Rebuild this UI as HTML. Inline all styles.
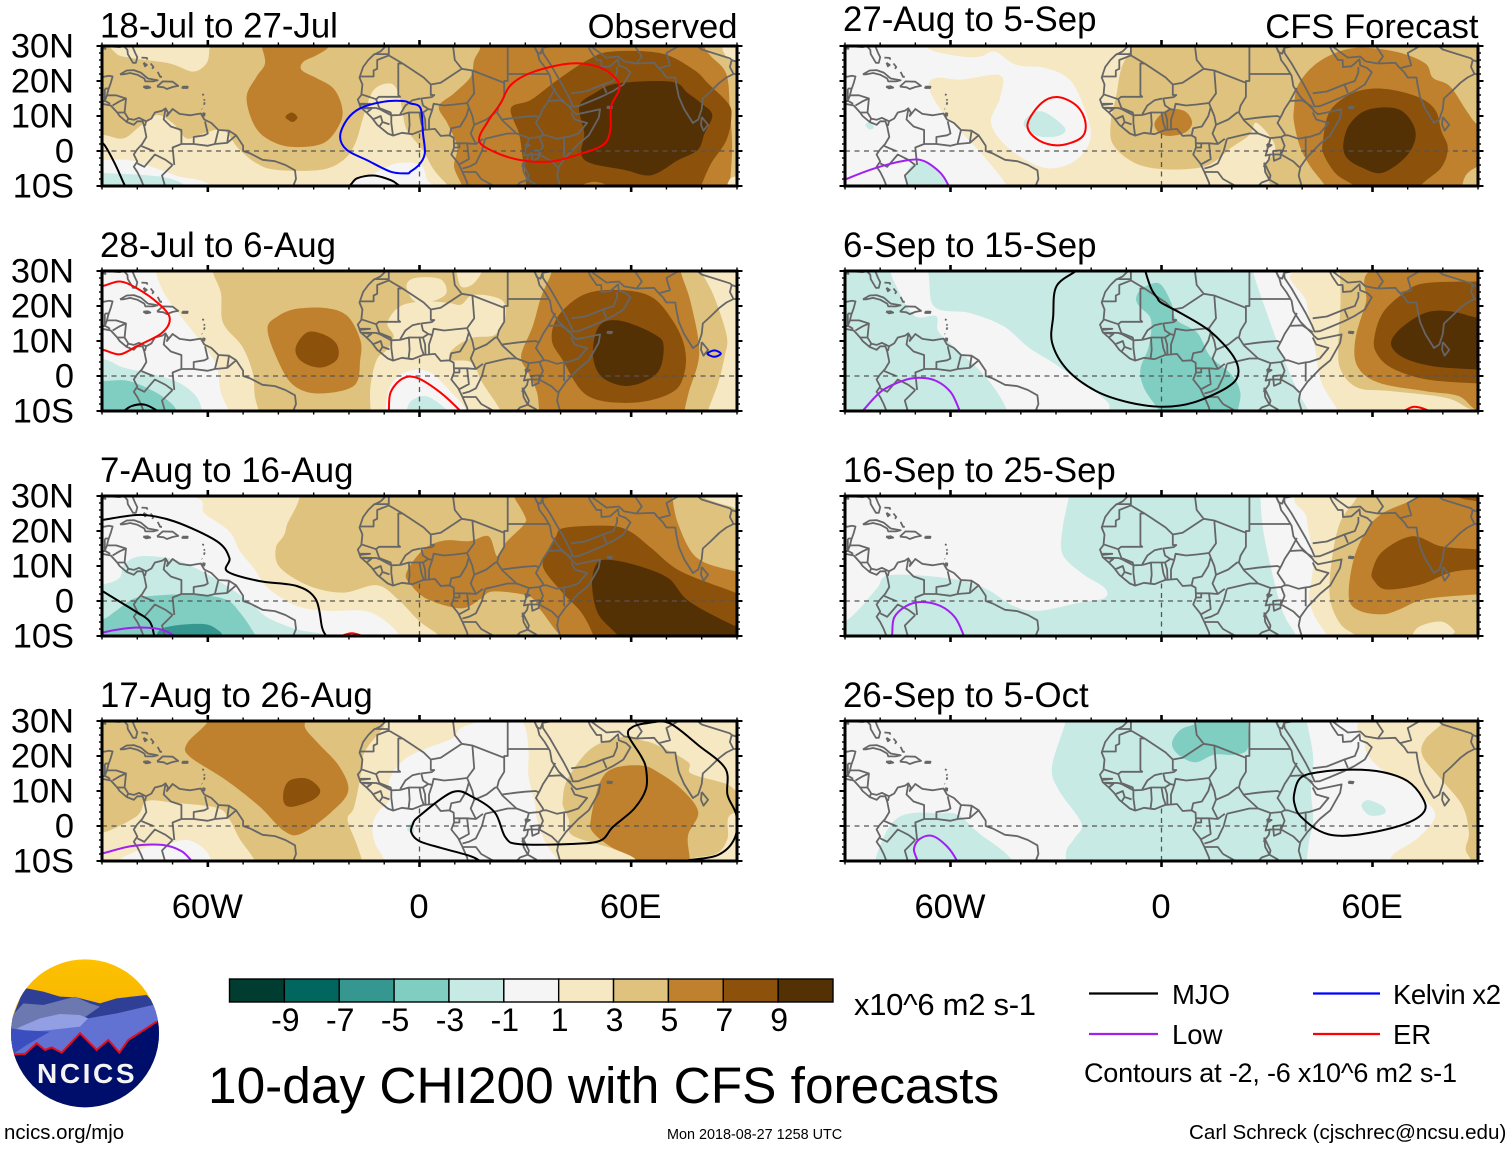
<!DOCTYPE html>
<html lang="en">
<head>
<meta charset="utf-8">
<title>10-day CHI200 with CFS forecasts</title>
<style>
html,body{margin:0;padding:0;background:#fff;width:1510px;height:1149px;overflow:hidden}
svg{display:block}
text{font-family:"Liberation Sans",sans-serif;fill:#000}
</style>
</head>
<body>
<svg id="chart" xmlns="http://www.w3.org/2000/svg" width="1510" height="1149" viewBox="0 0 1510 1149">
<defs>
<linearGradient id="sunGrad" x1="0" y1="0" x2="0" y2="1"><stop offset="0" stop-color="#ffc400"/><stop offset="1" stop-color="#e89c00"/></linearGradient>
<clipPath id="logoClip"><circle cx="255" cy="250" r="222"/></clipPath>
</defs>
<g id="panels"></g>
<g id="colorbar"></g>
<text x="854" y="1015" font-size="31" textLength="182">x10^6 m2 s-1</text>
<text x="208" y="1103" font-size="51.4">10-day CHI200 with CFS forecasts</text>
<g>
<line x1="1089" y1="993.5" x2="1158" y2="993.5" stroke="#000" stroke-width="2.2"/>
<text x="1172" y="1004" font-size="27.5">MJO</text>
<line x1="1313" y1="993.5" x2="1380" y2="993.5" stroke="#0000ff" stroke-width="2.2"/>
<text x="1393" y="1004" font-size="27.5" textLength="108">Kelvin x2</text>
<line x1="1089" y1="1034" x2="1158" y2="1034" stroke="#a020f0" stroke-width="2.2"/>
<text x="1172" y="1044" font-size="27.5">Low</text>
<line x1="1313" y1="1034" x2="1380" y2="1034" stroke="#ff0000" stroke-width="2.2"/>
<text x="1393" y="1044" font-size="27.5">ER</text>
<text x="1084" y="1082" font-size="27" textLength="373">Contours at -2, -6 x10^6 m2 s-1</text>
</g>
<text x="4" y="1139" font-size="20.4">ncics.org/mjo</text>
<text x="667" y="1139" font-size="14.4">Mon 2018-08-27 1258 UTC</text>
<text x="1189" y="1139" font-size="20.6">Carl Schreck (cjschrec@ncsu.edu)</text>
<g transform="translate(0,950) scale(0.3333)">
<g clip-path="url(#logoClip)">
<rect x="0" y="0" width="500" height="500" fill="url(#sunGrad)"/>
<path d="M70 120L80 115L130 125L180 140L230 142L300 160L350 145L440 135L500 200L500 300L0 300Z" fill="#2f3f95"/>
<path d="M20 215L70 160L130 165L225 140L270 160L300 170L250 205L100 240L20 240Z" fill="#6c78b0"/>
<path d="M20 240L100 232L250 200L265 205L350 190L480 160L500 215L500 330L20 330Z" fill="#6272d2"/>
<path d="M50 235L120 205L180 192L240 195L264 205L240 230L150 240L90 245Z" fill="#939fe3"/>
<path d="M20 232L60 240L150 245L80 285L40 312L20 300Z" fill="#3a4ec0"/>
<path d="M40 313L75 312L110 280L135 300L155 292L185 308L240 250L290 300L325 270L358 308L385 270L470 215L500 200L500 500L0 500L0 313Z" fill="#000e6b"/>
<path d="M40 313L75 312L110 280L135 300L155 292L185 308L240 250L290 300L325 270L358 308L385 270L470 215" fill="none" stroke="#e01020" stroke-width="6"/>
</g>
</g>
<text x="37" y="1083" font-size="28" font-weight="bold" letter-spacing="2.6" style="fill:#f4f4f4">NCICS</text>
</svg>
<script>
// Colour levels: index 0 (< -9) ... 10 (> 9)
const levelColors = ['#003c30','#01665e','#35978f','#80cdc1','#c7eae5','#f5f5f5','#f6e8c3','#dfc27d','#bf812d','#8c510a','#543005'];
const colorbarLabels = ['-9','-7','-5','-3','-1','1','3','5','7','9'];
const xTickLabels = ['60W','0','60E'];
const xTickLons = [-60,0,60];
const yTickLabels = ['30N','20N','10N','0','10S'];
const yTickLats = [30,20,10,0,-10];
const contourColors = {mjo:'#000000',kelvin:'#0000ff',er:'#ff0000',low:'#a020f0'};

const panelTitles = ['18-Jul to 27-Jul','28-Jul to 6-Aug','7-Aug to 16-Aug','17-Aug to 26-Aug','27-Aug to 5-Sep','6-Sep to 15-Sep','16-Sep to 25-Sep','26-Sep to 5-Oct'];

// Coastlines as lon,lat sequences
const coastLines = [
[-90,29.3,-89,29.2,-89.5,30,-85,29.7,-83.8,30,-82.8,28.9,-82.7,27.7,-81.2,25.2,-80.4,25.2,-80,26.8,-80.6,28,-81.4,30],
[-84.9,21.9,-83,23,-81,23.1,-79,22.4,-77,20.7,-74.2,20.2,-75.5,19.9,-77.7,19.9,-78,20.7,-80,21.8,-82,22.3,-84,21.9,-84.9,21.9],
[-74.4,18.4,-72.8,19.9,-70,19.8,-68.4,18.6,-70,18.3,-71.6,17.7,-72.5,18.2,-74.4,18.4],
[-78.3,18.4,-77,18.5,-76.3,18.1,-77.5,17.9,-78.3,18.4],
[-67.2,18.4,-65.7,18.4,-65.8,18,-67.2,18,-67.2,18.4],
[-78.2,25.2,-77.8,24.2,-77.3,24.6,-78.2,25.2],[-78.8,26.7,-77.3,26.6,-77.1,26.1],[-76.2,25,-75.4,24,-75.8,23.5],[-74.2,22.6,-73.5,21.2,-73,21.2],
[-61.6,16.2,-61.1,16],[-61.1,14.8,-60.9,14.4],[-60.9,13.9,-61.1,13.2],[-61.7,12.1,-61.6,12],[-61.5,10.8,-61,10.1,-60.9,10.7,-61.5,10.8],
[-90,21.1,-88,21.5,-87,21.3,-87.5,19.5,-88.2,17.5,-88.6,15.9,-86,15.9,-83.2,15,-83.6,11,-82.5,9.2,-81,8.9,-79.5,9.5,-77.5,8.5,-76,9.3,-75,11,-73,11.5,-72,12.2,-71.3,11,-71.6,10,-70,12,-68,10.6,-65,10.2,-62,10.7,-61,9,-59,8,-57,6,-54,5.8,-52,4.5,-50,1.5,-50,0,-48,-0.7,-44.5,-2.5,-41,-2.9,-38,-4,-35.3,-5.5,-35,-8,-36,-10.5],
[-90,13.5,-87.5,13,-85.7,11,-85,10,-83,8.3,-81,7.5,-80,8.5,-78.5,8.5,-78,7,-77.4,4,-78.6,2,-80,0.5,-81,-1,-80,-3,-81,-4.5,-80,-6,-79,-8,-78,-10.5],
[-9.5,30,-11,28.5,-13,27.5,-14.5,26,-16,24,-17,21,-16.2,19,-16.5,16,-17.5,14.7,-16.7,12.5,-15,11,-13.5,9.5,-12,7.5,-9,5,-7.5,4.4,-5,5.2,-2,4.8,1,6,4.4,6.3,6,4.3,8.5,4.5,9.7,3.8,9.8,1,9,-1,11,-3.5,12.2,-6,13.5,-9,13.8,-10.5],
[32.5,30,33.5,28,34,26,35.5,24,37,21.5,37.5,18.5,39.5,15.5,43,12,43.3,11.5,44.5,10.5,47,11,51.2,11.9,50.8,9.5,48,4.5,45,2,41.5,-1.7,39.5,-4.5,39,-7,40,-10.5],
[32.5,30,33.3,28.2,34.3,27.8,34.9,29.5,35,28,37,25,39,21.5,41,18,42.8,14.5,43.5,12.7,45,12.8,48,14,52,15.7,55,17.2,57.8,19,59.8,22.5,58.5,23.7,56.5,24.5,56.3,26.2,54,24.2,51.6,24,51.5,26,50.2,26,48.5,28.5,47.8,30],
[48.5,30,50.5,28.5,53,26.7,56.5,27,58,25.6,61.5,25,66.5,25.2,67.5,24,69,22.5,70,21,72.5,21,72.8,19,73.5,15.5,75,12,77.5,8,79,9,80,12,80.3,15,82.5,17,85,19.5,87,21,89,22,90,22],
[80,9.7,81.8,7.5,80.5,5.8,79.8,7.5,80,9.7],
[53.2,12.7,54.6,12.6,54.4,12.2,53.3,12.3,53.2,12.7],
[31.7,0,34,0.2,33.8,-2,32,-2.8,31.7,0],
[29.2,-3.3,29.5,-6,30.7,-8.2,31,-7,29.8,-4.5,29.2,-3.3],
[30,2,31.3,1.7,30.2,1,30,2]
];

// Political borders as lon,lat sequences
const borderLines = [
[-92,14.5,-90,14,-89.2,14.4,-89.2,15.9],[-89.2,17.8,-88.2,17.9],[-89.2,17.8,-89.2,15.9],[-88.6,15.8,-89.2,14.4,-87.7,13.5],[-87,13,-85,14.2,-83.2,15],[-85.7,11,-83.6,11],[-83,8.3,-82.5,9.5],[-77.5,8.5,-77.8,7.2],
[-72,12,-72.5,9,-70.5,7,-67.5,6,-67.5,2,-70,1,-69.5,-4],[-67.5,2,-64,2,-64,4,-61,4.5,-60,5,-60.8,8.5],[-57,6,-58,2,-60,1.5,-64,2],[-54,5.8,-54.5,2.3,-58,2],[-52,4.5,-54.5,2.3],
[-80,-3.5,-78,-4.5,-75,-1,-72,-2.5,-70,-4],[-78.8,1.4,-75.5,0],[-70,-4,-73,-7,-72,-10.5],
[-8.7,30,-8.7,27.3],[-13,27.7,-8.7,27.7],[-8.7,27.3,-12,26,-12,23.5,-13,23,-13,21.3,-17,21.3],[-8.7,27.3,-4.8,25,-6,25,-6,16,-5.5,15.5,-11.5,15.5,-12.3,14.8,-16.5,16.2],
[-4.8,25,1.2,21,3.2,19,6,19.5,12,23.5],[3.2,19,3.2,16,4.2,16,3.5,15.4,0.5,15,1,13,2.5,12,3.6,11.7,4,13.5,7,13,10,13.3,13.5,13.7],
[12,23.5,15,23,24,19.5],[10,30,9.5,30,10,26,12,23.5],[25,31,25,22,36.9,22],[24,19.5,24,20,25,20,25,22],
[-5.5,10.3,-3,11,0,11,1,11,2.5,12],[-5.5,10.5,-4,13,-2,14.5,0.2,15],[1,11,1.6,9,1.7,6.2],[0,11,0.5,8,1.2,6.1],[-3,11,-2.8,7.5,-3.1,5.1],[2.7,6.3,2.7,9,3.6,11.7],
[8.6,4.6,9,6.5,11.5,7,13.3,10,14,12.5,13.5,13.7,15.5,16.5,15,23],[14,12.5,15,10,15.5,7.5,14.5,5,16,2],[15.5,7.5,19,9,21.5,11,22,11],[24,19.5,24,15.5,22.5,13,22,11,23.5,8.7,27.5,5,31,3.7],[18.6,3.5,22,4.3,25,5,27.5,5],
[23.5,9,27,9.5,30,9.8,33,10,34,9.5],[36.5,14.3,35,12,34.3,10.5,33,8,35,5,35,4.5],[36.5,14.3,38.5,18],[36.5,14.3,40,14.5,43,12.5],[43,11,44,9,47.5,8,45,5,42,4,41,3.9],[35,4.5,36,4.5,39,3.5,41,3.9,41,-1.5],
[31,3.7,34,4,35,4.5],[34,4,35,1.5,34,-1,37.5,-3,39.2,-4.7],[31,3.7,29.6,-1.3,30.8,-1,34,-1],[30.8,-1,30.5,-2.5,29,-4.5],[30.7,-8.2,33,-9.5,34.5,-11],[34.5,-11,40,-10.5],[30.7,-8.2,28.5,-9,27,-10.5],
[12.2,-5,14,-4.5,16,-3.5,17.7,0,18.6,3.5],[11.1,-3.9,14,-2.3,13.5,2.2],[9.8,2.2,13.5,2.2,16,2,18,3.5],[9.8,1,11.3,1,11.3,2.2],[12.2,-6,16,-6,17.5,-8,22,-10.5],
[-16.7,12.4,-12.3,12.3,-11.4,12,-8,10.2,-8,8,-7.5,4.4],[-16.8,13.5,-14,13.5,-16.8,13.2],[-16.7,12.4,-13.7,12,-15,11],[-13.3,9,-11,10,-10.5,8.3,-11.4,6.9],[-10.5,8.3,-8.5,7.6],[-11.4,12.3,-8.2,11,-8,10.2,-5.5,10.3],[-12.3,14.8,-11.4,12.3],
[43,16.5,47,17,52,19,55,20,56,22.5,56,24],[52,19,53,16.6],[35,29.5,38,30],[61.5,25,63,27,61,30],[68,23.7,71,24.5,70,28,73.5,30],[78.8,30,80,29,88,26.5,88.5,26,88,24,89,22],[88.5,26,90,25.5]
];

// Panel 1: 18-Jul to 27-Jul (level index, lon,lat ...)
const panel1Base = 7;
const panel1Fills = [
[6,[-86,32,-86,27.9,-81.2,26.5,-70.8,25,-64.2,22.7,-60.4,25,-59.6,28.9,-60,33]],
[6,[-95,4,-89.8,4.6,-84,3.6,-79.3,7,-74.6,10.3,-69.9,7.9,-66,3.6,-61.3,5,-55.6,6,-51.4,0.8,-46.2,-3.5,-40.5,-5.4,-28.1,-5.4,-21.6,-2.6,-18.2,2.2,-15.9,9.8,-13,17.4,-8.2,19.3,-5.9,16.5,-4.9,11.7,-4,7,-2.6,4.6,1.2,-0.2,4.1,-5.4,7.9,-9.7,12,-14,-95,-15]],
[5,[-95,-2.6,-89.8,-2.6,-82.3,-2.6,-74.6,-5,-68,-7.3,-62.4,-8.3,-59,-10.2,-59,-14,-95,-14]],
[4,[-95,-6.4,-88,-6.4,-77.5,-6.9,-71,-7.8,-66.5,-10,-66,-14,-95,-14]],
[5,[-19.6,-9.2,-13,-6.4,-6.3,-3.5,0.3,-4,2.2,-8.3,4,-10.2,4,-14,-20,-14]],
[8,[-44.7,29.8,-43.8,25,-46.2,21.2,-49,15.5,-47.1,7.9,-43.3,3.6,-36.7,1.2,-27.3,2.2,-22.5,7.9,-22,12.7,-24.4,17.9,-29.1,20.8,-33.4,23.1,-32.9,25.5,-29.1,27.4,-25.7,29.8,-23,35,-46,35]],
[9,[-38,9.7,-36.2,11,-34.6,9.6,-36,8.3]],
[8,[17.3,29.8,15.5,26,14.5,21.2,9.8,16.5,5.5,12.7,7.9,7.9,10.7,1.2,9.8,-4.5,12.1,-10.2,12,-14,88,-14,88,-10.2,88.6,1.2,88,11.7,87,22,82.7,27,80.8,29.8,80,35,17,35]],
[6,[88,-8,92,-8,92,-14,87,-14]],
[6,[86,30,88,26,92,26,92,32]],
[9,[25.9,12.2,31.6,14.6,39.1,20.3,47.7,26,54.3,28.4,68.5,27.9,77.9,23.1,81.8,19.3,87.5,13.6,88.4,9.8,87,3.1,82.7,-3.5,79.9,-9.7,78,-14,27,-14,30.1,-9.7,29.2,-1.6,28.2,5]],
[8,[45.8,-10.2,49.6,-8.8,53.4,-10.2,50,-12]],
[10,[45.3,12.7,49.6,16.5,56.2,19.3,71.4,19.8,76.1,16.5,79.9,13.6,83,10.3,80.8,5,78.9,0.3,73.3,-2.6,65.7,-6.9,58.1,-5.4,48.6,-3.5,45.8,-0.7,46.7,5]]
];
const panel1Lines = [
['kelvin',1,[-22.5,4.1,-20.6,8.9,-16.8,12.2,-10.1,14.1,-4.5,14.3,-2.6,13.6,0.3,12.2,1,5,1.5,-0.7,-0.2,-4,-2.6,-5.9,-3.5,-6.4,-8.2,-5.9,-14.9,-2.6,-20.6,0.3]],
['er',1,[16.9,3.1,19.7,8.9,23,13.6,25.9,18.9,32.5,22.7,42.9,25,50.5,24.1,55.2,21.2,56.7,17.9,54.3,12.7,54.1,6,52,1.7,44.8,-1.1,37.2,-3,28.7,-2.6,21.1,-0.2]],
['mjo',0,[-91,3,-89.3,1.7,-86.4,-3.5,-83.6,-9.7,-82,-12]],
['mjo',0,[-22,-11,-19.6,-9.7,-17.7,-7.8,-13,-7,-8.2,-8.3,-6,-9.7,-4,-11]]
];

// Panel 2: 28-Jul to 6-Aug
const panel2Base = 6;
const panel2Fills = [
[5,[-75,35,-74.8,30,-72.4,23.7,-67.6,17,-61,8.5,-57.5,2.8,-56.3,-4.7,-53.9,-10.4,-53,-15,-95,-15,-95,35]],
[4,[-95,5,-89.1,4.7,-83.8,2.4,-75.4,0.5,-68.2,-1.9,-63.4,-5.7,-61.6,-10,-61,-15,-95,-15]],
[3,[-95,-1.4,-89.1,-1.4,-82.6,-1.4,-75.4,-4.3,-70.6,-7.6,-68.8,-10.2,-68,-15,-95,-15]],
[7,[-59,35,-58.7,30,-56.3,23.7,-55.7,15.2,-50.3,8.5,-47.3,1,-46.7,-5.7,-45.5,-10.4,-45,-15,81,-15,81.7,-10.2,84.7,-1.9,86.5,5.7,87.1,11.4,83.5,22.7,79.9,30,79,35]],
[6,[-13.9,-10.4,-13.9,-2.8,-12.1,4.7,-9.1,7.6,-7.3,11.4,-9.1,15.2,-5.5,19.9,1.1,21.3,8.2,20.9,11.8,20.4,15.4,23.2,23.2,21.8,24.4,17.1,21.4,11.8,14.8,10.9,9.4,7.6,8.8,4.7,14.8,3.8,17.8,-1.9,23.2,-10.4,23,-15,-14,-15]],
[6,[-3.7,25.6,-1.3,28,5.9,27.7,7.6,23.7,3.5,21.3,-1.3,21.3]],
[6,[10.4,30,11.8,25.6,14.8,26,17.2,28.9,17.2,31,10,31]],
[5,[-9.7,-10.4,-8.5,-3.3,-4.3,1,2.3,1.4,8.2,-3.8,13.6,-10.4,13,-15,-10,-15]],
[4,[-3.7,-10.4,-2.3,-7.1,2.3,-5.9,8.2,-10.4,8,-15,-4,-15]],
[8,[-43.1,13.7,-40.1,17.1,-34.8,19.2,-26.4,19.4,-20.4,17.1,-16.8,10.4,-16.8,4.7,-18.6,-2.8,-28.8,-5,-36,-2.4,-40.7,5.7]],
[9,[-35.1,8.1,-31.8,12.5,-27,11.8,-23.4,9,-23.4,4.7,-28.2,2.4,-33.6,4.3]],
[8,[37.5,30,34.5,22.7,32.1,14.2,28.8,5.7,30.9,0.9,33.3,-4.7,33.9,-10.4,34,-15,75,-15,75.1,-10.4,76.3,-4.7,79.3,6.6,76.9,20.9,74,30,74,35,37,35]],
[9,[37.5,10.4,39.3,17.1,46.5,23.2,56,24.6,65.6,22.7,71.6,16.1,75.1,8.5,75.1,0.9,71.6,-4.7,60.8,-7.6,47.7,-5.7,40.5,4.7]],
[10,[49.5,10.4,51.9,15.2,57.8,15.6,66.8,11.8,69.2,8.5,67.4,0.9,59.6,-2.8,52.5,-0.9,49.5,3.8]]
];
const panel2Lines = [
['er',0,[-93,25,-89.4,25.8,-84.9,27,-80.2,25.1,-74.2,20.9,-70.8,16.6,-73,12.3,-80.2,8.5,-84.9,6.2,-89.4,7.4,-93,8]],
['er',0,[-9,-12,-8.7,-10.4,-8.2,-4.7,-4.9,-0.8,-0.7,-0.5,5.9,-4.7,11.6,-10,13,-12]],
['mjo',0,[-85,-11,-83.8,-10,-81.4,-8.5,-77.8,-8.2,-74.2,-10,-73,-11]],
['kelvin',1,[81.6,6.4,83.6,7.3,85.4,6.4,83.6,5.5]]
];

// Panel 3: 7-Aug to 16-Aug
const panel3Base = 7;
const panel3Fills = [
[6,[-95,35,-38.4,35,-37.8,20.9,-40.7,15.2,-39.5,9.5,-31.2,4.3,-21.6,2.4,-12.1,4.5,-6.1,0.5,-0.1,-5.7,5.9,-10.4,6,-15,-95,-15]],
[5,[-95,35,-64.6,30,-61,25.1,-53.9,19.9,-50.9,14.2,-46.7,9,-43.1,3.8,-34.8,-1.4,-26.4,-2.8,-15.7,-2.8,-9.7,-5.7,-5.5,-10.2,-5,-15,-95,-15]],
[4,[-95,4,-89.7,4.7,-85,6.6,-83.8,10.4,-79,12.8,-69.4,11.8,-61,8.1,-53.9,3.8,-47.9,-0.5,-43.1,-4.7,-34.8,-8.1,-26.4,-10,-26,-15,-95,-15]],
[3,[-95,-5.5,-89.7,-5.2,-86,-2.8,-81.4,0.5,-76.6,1.4,-64.6,1.9,-55.1,0.5,-50.9,-3.3,-47.3,-8.5,-46.5,-10.4,-46,-15,-95,-15]],
[2,[-74.2,-9,-70,-7.1,-61,-6.6,-56.9,-8.5,-55.7,-10.4,-55,-15,-75,-15]],
[6,[80,35,80.5,30,83.5,28.4,88.3,27,92,26,95,35]],
[8,[26,35,26.2,31,29.7,24.6,29.7,22,24.4,16.6,22,12.8,19.6,18.5,14.2,17.1,7,17.3,1.1,14.7,-3.7,8.1,-2.5,4.7,2.3,0.5,11.8,-2.1,17.2,0.5,20.8,2.7,30.9,1.4,34.5,-2.8,38.7,-8.5,41.1,-10.9,41,-15,95,-15,95,8,89.5,8.5,78.7,12.3,73.4,21.8,71.6,30,71,35]],
[9,[38.7,18.5,41.1,20.9,53.6,21.5,59.6,19.9,65.6,15.2,74,8.5,89.5,2.4,95,0,95,-15,50,-15,49.5,-10.4,45.9,-3.3,40.5,2.4,35.1,9.5,36.3,14.2]],
[10,[48.9,4.7,50.1,10.4,53,11.8,60.8,10.4,70.4,6.6,76.3,0,88.3,-6.6,95,-9,95,-15,57,-15,56.6,-10.4,50.7,-3.8]]
];
const panel3Lines = [
['mjo',0,[-92,23,-89.7,23.2,-79,24.6,-69.4,22.7,-57.5,17.1,-53.9,12.3,-54.5,8.5,-45.5,5.7,-34.8,4.3,-29.4,0.5,-27.6,-7.6,-26.4,-10,-25,-12]],
['mjo',0,[-92,4,-89.7,2.7,-81.4,-2.4,-76.6,-5.7,-75.2,-10,-75,-12]],
['low',0,[-92,-10,-89.7,-9,-83.8,-7.9,-77.8,-7.6,-73,-8.2,-69.4,-10,-68,-11.5]],
['er',0,[-24,-11,-22.2,-10,-19.2,-9.2,-16.2,-10,-14,-11]]
];

// Panel 4: 17-Aug to 26-Aug
const panel4Base = 7;
const panel4Fills = [
[6,[-5,35,-10.3,28,-15.7,20.9,-16.8,13.7,-18.6,5.2,-20.4,1.9,-18,-4.7,-16.2,-10.4,-16,-15,95,-15,95,35]],
[7,[40.6,7.3,42,13.5,48.6,22.1,57.2,25.4,62.8,24.5,67.6,23,76.1,18.3,77,15,86.7,12.1,90.3,9.7,95,8,95,5,87.9,3,87.3,-3.6,84.2,-7.9,76.6,-9.7,76,-15,61,-15,61.4,-9.7,54.8,-6.5,43.4,-2.7,42.4,1.6,41,4.9]],
[5,[26.2,31,29.7,28.9,30.9,21.8,30.9,14.2,32.7,6.6,33.3,1.9,35.7,-4.7,39.3,-10.4,39,-15,-10,-15,-9.7,-10.4,-12.7,-4.7,-13.3,0.5,-11.5,4.3,-8.5,7.6,-8.5,13.3,-4.3,19,2.3,22.3,9.4,25.1,11.8,28,17.2,30,17.8,31]],
[4,[-3.5,-1,-1.9,1.4,-1.6,-1.9]],
[6,[-95,-1,-89.7,-1.9,-80.2,2.8,-77.2,7.1,-69.4,6.6,-57.5,5.2,-53.9,1.9,-50.9,-3.8,-46.7,-10,-46,-15,-95,-15]],
[5,[-86.1,-10.4,-77.8,-6.2,-71.8,-5.2,-65.8,-4,-61,-6.6,-58.9,-10.4,-59,-15,-86,-15]],
[8,[-59.9,30,-65.8,23.7,-65.2,19.9,-55.1,13.3,-45.5,5.7,-38.4,-1.4,-33.6,-2.2,-25.2,3.8,-20.2,10,-22.8,17.1,-28.8,23.7,-32.4,28,-32,31,-32,35,-60,35]],
[9,[-38.4,10.4,-36.6,13.1,-31.8,13.5,-28.2,10.4,-30,7.6,-36,5.5,-38.4,6.6]],
[8,[48.6,2.1,51,12.1,54.8,16.4,62.8,17.3,67.6,15.4,74.2,10.6,79,4,76.1,-2.7,76.6,-9.7,76,-15,61,-15,61.4,-9.7,54.3,-6,49.1,-1.7]]
];
const panel4Lines = [
['mjo',0,[19,-11.5,17.2,-10,14.2,-8.5,5.9,-6.2,-0.1,-4.3,-2.3,-1.9,-1.9,0.5,-0.1,2.8,9.4,9.7,15.4,8.1,21.4,3.8,24.4,-3.3,28.6,-5.2,43.9,-5.1,51.4,-4.1,54.8,-0.3,60.8,4.9,64.2,10.6,64.2,16.4,62.8,20,59.2,25.9,60.4,28.3,64.7,29.4,70.8,29.4,79,23.1,86.7,16.4,87.3,8.9,89.8,3.1,89.3,-3.6,84.6,-8.3,76.1,-9.8,74,-10.5]],
['low',0,[-92,-8.2,-89.7,-7.8,-81.4,-5.7,-73,-5.4,-67.6,-7.1,-64.6,-10,-63.5,-11.5]]
];

// Panel 5: 27-Aug to 5-Sep
const panel5Base = 6;
const panel5Fills = [
[5,[-95,35,-67,35,-66.5,29.4,-56.9,27,-51.5,27,-47.3,28.4,-41.3,24.6,-32.9,23.7,-25.7,19.9,-21,9.5,-20.4,2.8,-24.6,-2.8,-31.7,-5,-38.9,-2.4,-45.5,2.8,-48.5,8.5,-45.9,15.2,-45.9,21.6,-56.9,20.4,-64.1,20.9,-66.2,18.5,-63.5,12.8,-58.1,6.6,-52.7,0.9,-47.9,-4.7,-43.7,-10.4,-43,-15,-95,-15]],
[4,[-39.2,7.6,-36.5,10.9,-32.9,10.9,-27.5,6.6,-29.3,4.3,-35.3,4.3]],
[4,[-84.2,7.6,-82.6,8.1,-81.8,6.6,-83.2,6.2]],
[4,[-72,-10,-72.5,-6.6,-70.7,-3.8,-67.1,-3.3,-62.9,-6.6,-61.1,-10,-61,-15,-72,-15]],
[7,[-8,35,-8.4,30,-11.4,23.7,-12.8,16.1,-14.4,8.5,-13.8,1.9,-7.8,-3.3,0.6,-5.2,12.6,-4.3,19.8,0.9,25.1,4.7,26.9,8.1,31.1,3.8,32.3,0,29.3,-4.7,31.1,-10.4,31,-15,95,-15,95,35]],
[8,[-1.8,8.5,1.8,11.8,6.6,11.4,8.7,8.1,6.6,5.2,1.8,4.3,-1.2,5.7]],
[8,[37.7,12.3,38.9,19,44.9,25.6,54.5,29.4,66.5,28.4,74.9,25.1,77.2,20.9,82,18.5,86.8,11.4,89.8,7.6,95,5,95,-15,47,-15,46.7,-10.4,42.5,-4.7,39.5,0.9,37.7,8.1]],
[7,[85.4,-10.4,86.8,-6.6,90.4,-4.3,95,-4,95,-15,85,-15]],
[9,[45.9,2.8,47.9,11.4,54.5,16.6,62.9,17.8,72.5,15.6,77.8,11.8,79.6,5.7,81.4,0.9,79.6,-4.7,73.7,-10,73,-15,55,-15,55.1,-10.4,49.7,-6.6,46.1,-0.9]],
[10,[51.7,1.9,53.5,7.6,58.7,11.8,67.7,11.8,72.2,5.7,70.1,-0.9,62.9,-6.2,56.9,-4.7,52.7,-1.9]]
];
const panel5Lines = [
['er',1,[-38.1,7.6,-34.1,13.7,-29.3,15.4,-24,12.8,-21.6,8.1,-22.8,3.8,-29.3,1.6,-35.3,3.3]],
['low',0,[-92,-9.5,-89.8,-8.1,-80.8,-4.7,-72.5,-2.7,-67.7,-2.8,-62.9,-6.2,-60.5,-10,-60,-12]]
];

// Panel 6: 6-Sep to 15-Sep
const panel6Base = 4;
const panel6Fills = [
[5,[-76.6,31,-74.9,24.6,-70.1,17.1,-64.1,17.1,-63.5,12.8,-58.7,8.1,-51.5,1.4,-46.7,-4.7,-43.7,-10.4,-43,-15,-15,-15,-15,-10.4,-16.2,-6.6,-29.3,2.8,-37.7,8.1,-44.9,14.2,-54.5,18,-64.7,19.9,-67.1,31]],
[5,[25.7,31,29.3,19.9,34.1,6.6,38.9,-4.7,41.9,-10.4,42,-15,60,-15,60,35,26,35]],
[6,[40.4,31,41.3,20.9,43.7,7.6,45.5,-1.9,50.3,-10.4,50,-15,95,-15,95,35]],
[7,[50,35,50.7,30,50.9,20.9,50.3,9.5,50.9,1.9,55.7,-3.3,65.3,-4.3,80.8,-6.2,88,-9.5,95,-11,95,35]],
[8,[61.1,31,58.1,20.9,55.1,10.4,55.7,2.8,61.7,-1.9,74.9,-4.3,84.4,-5.7,89.2,-9.5,95,-11,95,35]],
[9,[60.5,10.9,62.9,18,68.9,23.7,74.9,26.5,89.8,27,95,27,95,-2,89.8,-2.1,74.9,-0.9,65.3,2.4,61.1,6.6]],
[10,[65.3,9,67.7,13.3,74.9,18,82,18.5,89.8,16.6,95,16,95,2,89.8,1.9,77.2,2.8,68.9,5.2]],
[3,[-7.2,22.3,-5.4,25.1,-0.6,26.4,2.8,20.9,4.2,16.1,10.2,12.3,13.8,5.7,19.8,0.5,22.4,-4.7,21.6,-10.4,21,-15,2,-15,-0.6,-10,-4.8,-3.8,-6,1.9,-3.6,8.5,-3,16.1,-6.3,19.9]]
];
const panel6Lines = [
['mjo',0,[-22,32,-24.3,30,-29.9,25.6,-30.8,17.1,-31.1,9.5,-26.9,1.9,-18.6,-4.3,-9,-7.6,0.6,-8.8,9,-7.6,18.6,-3.3,21.8,0.5,20.4,5.7,13.8,12.8,5.4,18,0,20.9,-1.2,22.3,-3,25.1,-4.6,30,-5,32]],
['low',0,[-86,-11.5,-84.7,-9.7,-79.6,-4.3,-73.7,-1.4,-68.9,-0.5,-64.1,-1.4,-59.9,-4.7,-57.5,-9.7,-57,-11.5]],
['er',0,[67,-11,69.5,-9.7,71.9,-8.8,75.4,-9.7,77,-11]]
];

// Panel 7: 16-Sep to 25-Sep
const panel7Base = 5;
const panel7Fills = [
[4,[-26,35,-26.3,30,-28.1,20.9,-28.1,13.3,-22.2,7.6,-16.2,3.8,-16.2,0.9,-23.4,-0.5,-34.9,-2.8,-42.1,-1.4,-50.5,3.8,-61.3,6.6,-77.2,7.4,-80.8,3.8,-85.6,-1.9,-89.8,-5.7,-95,-8,-95,-15,39,-15,38.3,-10,34.1,-1.9,29.3,18,28.1,30,28,35]],
[6,[41.9,31,41.3,23.7,43.1,12.3,42.5,4.7,41.9,0.9,43.7,-4.7,47.3,-10.4,47,-15,95,-15,95,35]],
[7,[55.7,30,50.9,22.7,48.5,12.3,47.9,0.9,50.9,-6.6,55.7,-10.4,56,-15,95,-15,95,35,55,35]],
[6,[71.3,-10,73.7,-7.1,79.7,-5.9,83.3,-8.5,82.7,-10,82,-15,71,-15]],
[8,[73.1,30,62.9,25.1,58.1,19.9,54.5,11.4,53.3,0.9,56.3,-2.8,62.9,-3.8,67.7,-2.4,74.9,0.5,89.8,1.9,95,2,95,35,73,35]],
[9,[59.9,8.5,62.9,14.2,71.3,18.5,79.6,15.6,89.8,14.7,95,14,95,8,89.8,9,82,8.1,73.7,4.7,64.1,3.3,60.5,5.7]],
[9,[83,35,84,30,90,28.5,95,28,95,35]]
];
const panel7Lines = [
['low',0,[-77,-11.5,-76.6,-9.7,-76,-4.7,-72.5,-1.4,-68.3,-0.3,-62.9,-1.4,-58.7,-4.7,-56.3,-9.7,-56,-11.5]]
];

// Panel 8: 26-Sep to 5-Oct
const panel8Base = 5;
const panel8Fills = [
[4,[-27,35,-27.2,30,-31.1,17.1,-29.3,10.4,-22.8,0.9,-24.6,-3.3,-26.9,-6.6,-27.2,-10,-27,-15,41,-15,41.3,-10.4,41.9,-4.7,43.1,1.9,42.5,10.4,43.1,19.9,41.1,31,41,35]],
[4,[-81.4,-10,-78.4,-1.9,-74.9,2.4,-70.1,3.8,-64.1,3.6,-58.1,3.3,-52.1,-1.9,-43.1,-9,-42,-15,-81,-15]],
[4,[56.9,5.7,58.7,7.4,62.9,5.7,63.5,3.6,59.3,3]],
[3,[3,23.7,5.4,27.5,10.2,29.6,10,33,25,33,24.6,30,24.6,22.3,21,20.4,15,20.4,9.6,18.2,4.8,20.4]],
[6,[58.7,31,57.8,23.7,59.3,19.4,64.1,15.2,71.3,11.8,74.9,7.6,77.8,2.8,73.1,-3.3,66.5,-7.6,64.7,-10.4,64,-15,95,-15,95,35]],
[7,[80.2,30,74.9,24.6,74.3,19.9,79.6,13.3,85.6,5.7,87.4,-1.9,86.5,-6.6,88,-10,88,-15,95,-15,95,35,80,35]],
[6,[-91,8,-89.4,5,-91,2]]
];
const panel8Lines = [
['mjo',1,[37.7,9,39.5,13.7,44.9,15.4,54.5,16.1,62.9,15.4,70,12.8,74.2,8.1,74.8,4.3,70,0.9,60.5,-1.7,50.9,-2.8,44.9,-1.4,39.5,2.8,38,5.7]],
['low',0,[-69.5,-11.5,-69.5,-9.7,-70.4,-6.6,-68.9,-3.8,-65.3,-2.8,-61.1,-5.7,-58.3,-9.7,-58,-11.5]]
];

const panelBases = [panel1Base,panel2Base,panel3Base,panel4Base,panel5Base,panel6Base,panel7Base,panel8Base];
const panelFills = [panel1Fills,panel2Fills,panel3Fills,panel4Fills,panel5Fills,panel6Fills,panel7Fills,panel8Fills];
const panelLines = [panel1Lines,panel2Lines,panel3Lines,panel4Lines,panel5Lines,panel6Lines,panel7Lines,panel8Lines];

const NS = 'http://www.w3.org/2000/svg';
const panelsRoot = document.getElementById('panels');
const barRoot = document.getElementById('colorbar');

function mk(tag, parent, attrs) {
  const el = document.createElementNS(NS, tag);
  for (const k in attrs) el.setAttribute(k, attrs[k]);
  parent.appendChild(el);
  return el;
}
function lonToX(box, lon) { return box.x + (lon + 90) * box.w / 180; }
function latToY(box, lat) { return box.y + (30 - lat) * box.h / 40; }
function toPixels(box, flat) {
  const out = [];
  for (let i = 0; i < flat.length; i += 2) out.push([lonToX(box, flat[i]), latToY(box, flat[i + 1])]);
  return out;
}
function splinePath(p, closed) {
  const n = p.length;
  const at = i => closed ? p[(i + n) % n] : p[Math.max(0, Math.min(n - 1, i))];
  let d = 'M' + p[0][0].toFixed(1) + ' ' + p[0][1].toFixed(1);
  const segs = closed ? n : n - 1;
  for (let i = 0; i < segs; i++) {
    const a = at(i - 1), b = at(i), c = at(i + 1), e = at(i + 2);
    d += 'C' + (b[0] + (c[0] - a[0]) / 6).toFixed(1) + ' ' + (b[1] + (c[1] - a[1]) / 6).toFixed(1) + ' ' +
      (c[0] - (e[0] - b[0]) / 6).toFixed(1) + ' ' + (c[1] - (e[1] - b[1]) / 6).toFixed(1) + ' ' +
      c[0].toFixed(1) + ' ' + c[1].toFixed(1);
  }
  return d + (closed ? 'Z' : '');
}
function straightPath(p) {
  return 'M' + p.map(q => q[0].toFixed(1) + ' ' + q[1].toFixed(1)).join('L');
}

function drawPanel(i) {
  const col = i < 4 ? 0 : 1;
  const row = i % 4;
  const box = {x: col ? 845 : 102, y: 46 + row * 225, w: col ? 633 : 635, h: 140};
  const g = mk('g', panelsRoot, {});
  
  
  const clipId = 'clip' + i;
  const cp = mk('clipPath', g, {id: clipId});
  mk('rect', cp, {x: box.x, y: box.y, width: box.w, height: box.h});
  const plot = mk('g', g, {'clip-path': 'url(#' + clipId + ')'});
  const base = mk('rect', plot, {x: box.x, y: box.y, width: box.w, height: box.h, fill: levelColors[panelBases[i]]});
  
  
  panelFills[i].forEach(f => {
    const el = mk('path', plot, {d: splinePath(toPixels(box, f[1]), true), fill: levelColors[f[0]]});
    
    
  });
  const map = mk('g', plot, {fill: 'none', stroke: '#666666', 'stroke-width': 1.8, 'stroke-linejoin': 'round'});
  
  
  mk('path', map, {d: coastLines.concat(borderLines).map(l => straightPath(toPixels(box, l))).join('')});
  const eq = mk('line', plot, {x1: box.x, x2: box.x + box.w, y1: latToY(box, 0), y2: latToY(box, 0), stroke: '#555', 'stroke-width': 1.3, 'stroke-dasharray': '5 4.5'});
  
  
  const pm = mk('line', plot, {x1: lonToX(box, 0), x2: lonToX(box, 0), y1: latToY(box, 5), y2: latToY(box, -10), stroke: '#555', 'stroke-width': 1.3, 'stroke-dasharray': '5 4.5'});
  
  
  panelLines[i].forEach(c => {
    const el = mk('path', plot, {d: splinePath(toPixels(box, c[2]), !!c[1]), fill: 'none', stroke: contourColors[c[0]], 'stroke-width': 2});
    
    
  });
  const frame = mk('rect', g, {x: box.x, y: box.y, width: box.w, height: box.h, fill: 'none', stroke: '#000', 'stroke-width': 3});
  
  
  const ticks = mk('g', g, {stroke: '#000', 'stroke-width': 1.4});
  
  
  for (let lon = -90; lon <= 90; lon += 10) {
    const major = lon % 60 === 0 && lon !== -90 && lon !== 90;
    const len = major ? 6 : 3.5;
    const x = lonToX(box, lon);
    mk('line', ticks, {x1: x, x2: x, y1: box.y - len, y2: box.y, 'stroke-width': major ? 2.6 : 1.4});
    mk('line', ticks, {x1: x, x2: x, y1: box.y + box.h, y2: box.y + box.h + len, 'stroke-width': major ? 2.6 : 1.4});
  }
  for (let lat = -10; lat <= 30; lat += 2) {
    const major = lat % 10 === 0;
    const len = major ? 5.5 : 3;
    const y = latToY(box, lat);
    mk('line', ticks, {x1: box.x - len, x2: box.x, y1: y, y2: y, 'stroke-width': major ? 2 : 1.4});
    mk('line', ticks, {x1: box.x + box.w, x2: box.x + box.w + len, y1: y, y2: y, 'stroke-width': major ? 2 : 1.4});
  }
  if (col === 0) {
    yTickLabels.forEach((t, k) => {
      const el = mk('text', g, {x: 74, y: latToY(box, yTickLats[k]) + 11.6, 'font-size': 34.4, 'text-anchor': 'end'});
      el.textContent = t;
      
      
    });
  }
  if (row === 3) {
    xTickLabels.forEach((t, k) => {
      const el = mk('text', g, {x: lonToX(box, xTickLons[k]) - 0.5, y: 918, 'font-size': 34.6, 'text-anchor': 'middle'});
      el.textContent = t;
      
      
    });
  }
  let titleY = box.y - 14;
  if (i === 0) titleY = 37.5;
  if (i === 4) titleY = 31;
  const title = mk('text', g, {x: col ? 843 : 100, y: titleY, 'font-size': 34.8});
  title.textContent = panelTitles[i];
  
  
  if (i === 0 || i === 4) {
    const tag = mk('text', g, {x: box.x + box.w + 0.5, y: 38, 'font-size': 34.6, 'text-anchor': 'end'});
    tag.textContent = i === 0 ? 'Observed' : 'CFS Forecast';
    
    
  }
}
for (let i = 0; i < 8; i++) drawPanel(i);

const barLeft = 229.5, barWidth = 603.5, barTop = 979, barHeight = 23;
const cellWidth = barWidth / levelColors.length;
levelColors.forEach((c, i) => {
  const r = mk('rect', barRoot, {x: barLeft + i * cellWidth, y: barTop, width: cellWidth, height: barHeight, fill: c, stroke: '#000', 'stroke-width': 1.4});
  
  
});
colorbarLabels.forEach((t, i) => {
  const el = mk('text', barRoot, {x: barLeft + (i + 1) * cellWidth + 1, y: 1031, 'font-size': 32, 'text-anchor': 'middle'});
  el.textContent = t;
  
  
});
</script>
</body>
</html>
